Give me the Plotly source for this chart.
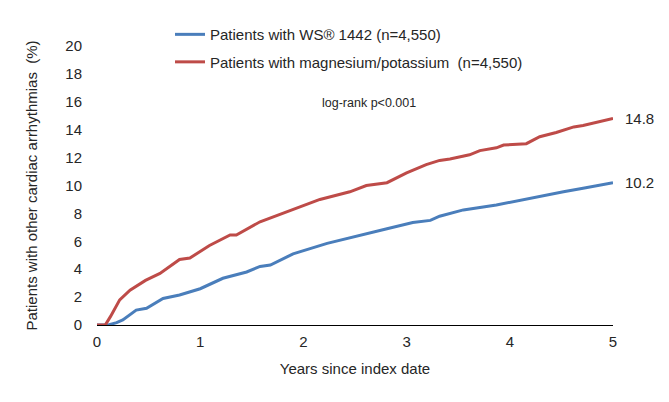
import plotly.graph_objects as go

# Data
red_t = [0, 0.08, 0.13, 0.22, 0.32, 0.47, 0.61, 0.80, 0.90, 1.09, 1.29, 1.35, 1.58, 1.87, 2.16,
         2.45, 2.61, 2.81, 3.0, 3.19, 3.32, 3.42, 3.61, 3.71, 3.87, 3.94, 4.16, 4.29, 4.45, 4.62, 4.71, 5.0]
red_v = [0, 0, 0.6, 1.8, 2.5, 3.2, 3.7, 4.7, 4.8, 5.7, 6.45, 6.45, 7.4, 8.2, 9.0,
         9.55, 10.0, 10.2, 10.9, 11.5, 11.8, 11.9, 12.2, 12.5, 12.7, 12.9, 13.0, 13.5, 13.8, 14.2, 14.3, 14.8]

blue_t = [0, 0.11, 0.19, 0.25, 0.38, 0.48, 0.64, 0.80, 1.0, 1.22, 1.45, 1.58, 1.68, 1.90, 2.23,
          2.55, 2.81, 3.06, 3.23, 3.32, 3.55, 3.87, 4.20, 4.52, 4.71, 5.0]
blue_v = [0, 0, 0.17, 0.36, 1.07, 1.2, 1.9, 2.15, 2.6, 3.35, 3.8, 4.2, 4.3, 5.1, 5.85,
          6.4, 6.9, 7.35, 7.5, 7.8, 8.25, 8.6, 9.1, 9.55, 9.8, 10.2]

blue_name = "Patients with WS® 1442 (n=4,550)"
red_name = "Patients with magnesium/potassium  (n=4,550)"
x_ticks = [0, 1, 2, 3, 4, 5]
y_ticks = [0, 2, 4, 6, 8, 10, 12, 14, 16, 18, 20]
end_labels = ["10.2", "14.8"]

BLUE = "#4A7EBB"
RED = "#BE4B48"
FONT = "Liberation Sans, Arial, sans-serif"
TXT = "#262626"

fig = go.Figure()
fig.add_trace(go.Scatter(x=blue_t, y=blue_v, mode="lines", name=blue_name, legendgroup="b",
                         line=dict(color=BLUE, width=3)))
fig.add_trace(go.Scatter(x=red_t, y=red_v, mode="lines", name=red_name, legendgroup="r",
                         line=dict(color=RED, width=3)))

fig.add_annotation(x=blue_t[-1], y=blue_v[-1], text=end_labels[0], showarrow=False,
                   xanchor="left", xshift=10, font=dict(size=15, color=TXT, family=FONT))
fig.add_annotation(x=red_t[-1], y=red_v[-1], text=end_labels[1], showarrow=False,
                   xanchor="left", xshift=10, font=dict(size=15, color=TXT, family=FONT))
fig.add_annotation(x=2.64, y=15.9, text="log-rank p<0.001", showarrow=False,
                   font=dict(size=12.5, color=TXT, family=FONT))

# page body has an 8px margin, so the figure is drawn 8px in from the window's top-left
fig.update_layout(
    width=661, height=394,
    margin=dict(l=89, r=56, t=38, b=77, autoexpand=False),
    paper_bgcolor="white", plot_bgcolor="white",
    font=dict(family=FONT, size=15, color=TXT),
    showlegend=True,
    legend=dict(x=0.1415, y=1.100, xanchor="left", yanchor="top",
                bgcolor="rgba(0,0,0,0)", font=dict(size=15, color=TXT, family=FONT),
                tracegroupgap=5, itemwidth=30),
    xaxis=dict(range=[0, 5], tickvals=x_ticks, showgrid=False, zeroline=False,
               showline=True, linecolor="#000000", linewidth=1, ticks="",
               ticklabelstandoff=3, automargin=False,
               title=dict(text="Years since index date", font=dict(size=15), standoff=14),
               tickfont=dict(size=15)),
    yaxis=dict(range=[0, 20], tickvals=y_ticks, showgrid=False, zeroline=False,
               showline=False, ticks="", ticklabelstandoff=14, automargin=False,
               title=dict(text="Patients with other cardiac arrhythmias  (%)", font=dict(size=15), standoff=24),
               tickfont=dict(size=15)),
)

fig.write_html("out.html")
